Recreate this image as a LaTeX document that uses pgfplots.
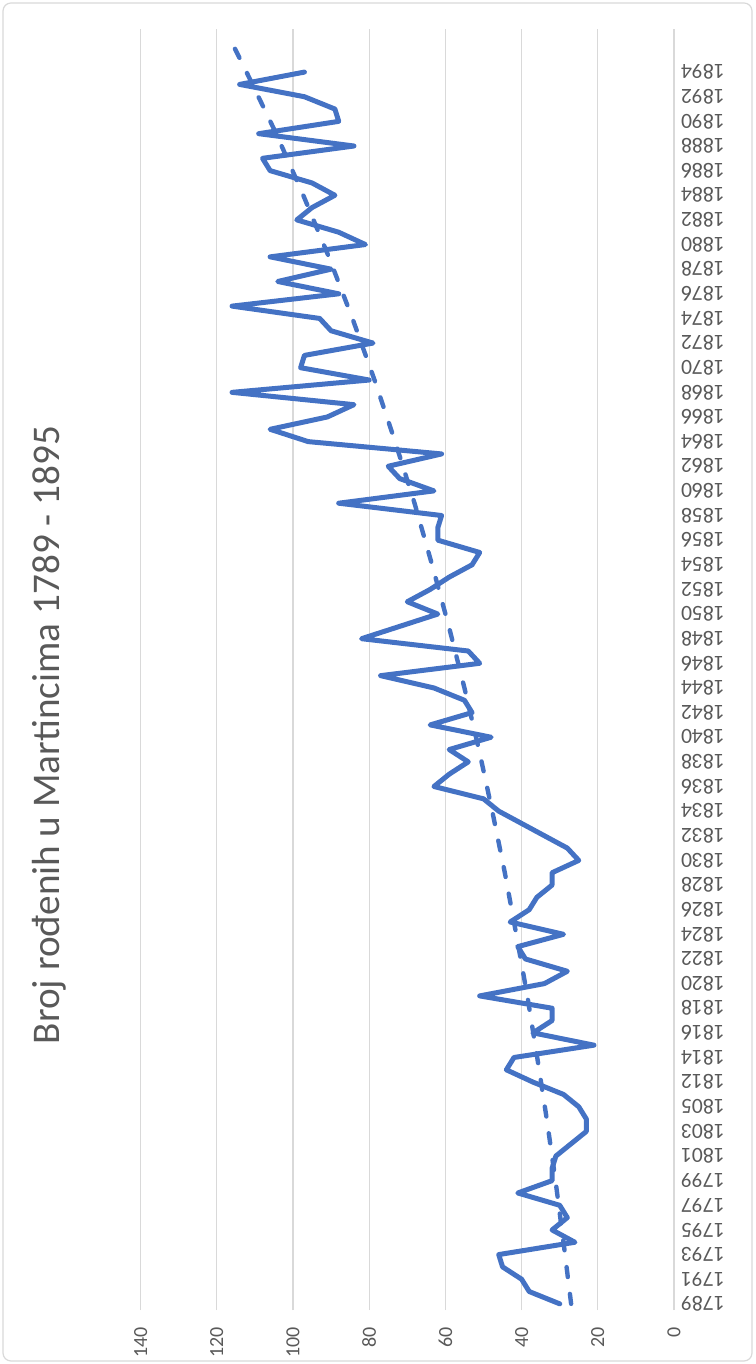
\documentclass[border=0pt]{standalone}
\usepackage{pgfplots}
\pgfplotsset{compat=1.18}
\usepackage{pgfplotstable}
\usepackage{fontspec}
\setmainfont{Carlito}
\definecolor{lineblue}{HTML}{4472C4}
\definecolor{gridgray}{HTML}{D9D9D9}
\definecolor{txtgray}{HTML}{595959}
\pgfplotstableread{
idx val
0 30
1 38
2 40
3 45
4 46
5 26
6 32
7 28
8 30
9 41
10 32
11 32
12 31
13 27
14 23
15 23
16 25
17 29
18 37
19 44
20 42
21 21
22 37
23 32
24 32
25 51
26 34
27 28
28 39
29 41
30 29
31 43
32 38
33 36
34 32
35 32
36 25
37 28
38 34
39 40
40 46
41 50
42 63
43 59
44 54
45 59
46 48
47 64
48 53
49 55
50 63
51 77
52 51
53 54
54 82
55 72
56 62
57 70
58 64
59 59
60 53
61 51
62 62
63 62
64 61
65 88
66 63
67 72
68 75
69 61
70 96
71 106
72 91
73 84
74 116
75 80
76 98
77 97
78 79
79 90
80 93
81 116
82 88
83 104
84 90
85 106
86 81
87 88
88 99
89 95
90 89
91 95
92 106
93 108
94 84
95 109
96 88
97 89
98 97
99 114
100 97
}\births
\pgfplotstableread{
idx val
0 27.0
5 29.0
10 31.1
15 33.4
20 35.9
25 38.5
30 41.4
35 44.4
40 47.7
45 51.2
50 55.0
55 59.1
60 63.5
65 68.1
70 73.2
75 78.6
80 84.4
85 90.6
90 97.3
95 104.4
100 112.2
103 117.0
}\trend
\begin{document}
\begin{tikzpicture}
\path[use as bounding box] (-70.3pt,-27pt) rectangle (307.2pt,655pt);
\draw[gridgray, line width=0.6pt, rounded corners=4pt] (-68.8pt,-25.5pt) rectangle (305.7pt,653.5pt);
\begin{axis}[
  at={(0pt,0pt)}, anchor=south west,
  scale only axis, width=266.7pt, height=640.5pt,
  xmin=0, xmax=140, x dir=reverse,
  ymin=-0.5, ymax=103.5,
  xtick={0,20,...,140},
  ytick={0,2,...,100},
  yticklabels={1789,1791,1793,1795,1797,1799,1801,1803,1805,1812,1814,1816,1818,1820,1822,1824,1826,1828,1830,1832,1834,1836,1838,1840,1842,1844,1846,1848,1850,1852,1854,1856,1858,1860,1862,1864,1866,1868,1870,1872,1874,1876,1878,1880,1882,1884,1886,1888,1890,1892,1894},
  yticklabel pos=right,
  /pgf/number format/assume math mode=true,
  xmajorgrids,
  grid style={draw=gridgray, line width=0.6pt},
  axis line style={draw=none},
  major tick length=0pt,
  tick label style={font=\fontsize{10}{12}\selectfont, text=txtgray},
  xticklabel style={rotate=90, anchor=east},
  xticklabel shift=5pt,
  yticklabel style={rotate=180, anchor=east, font=\fontsize{10.8}{12}\selectfont},
]
\addplot[lineblue, line width=2.5pt, line join=round, line cap=round] table[x=val,y=idx]{\births};
\addplot[lineblue, line width=2.2pt, dash pattern=on 5pt off 8.5pt, line cap=round] table[x=val,y=idx]{\trend};
\end{axis}
\node[rotate=90, font=\fontsize{19.6}{23}\selectfont, text=txtgray] at (-45.8pt,287.5pt) {Broj rođenih u Martincima 1789 - 1895};
\end{tikzpicture}
\end{document}
